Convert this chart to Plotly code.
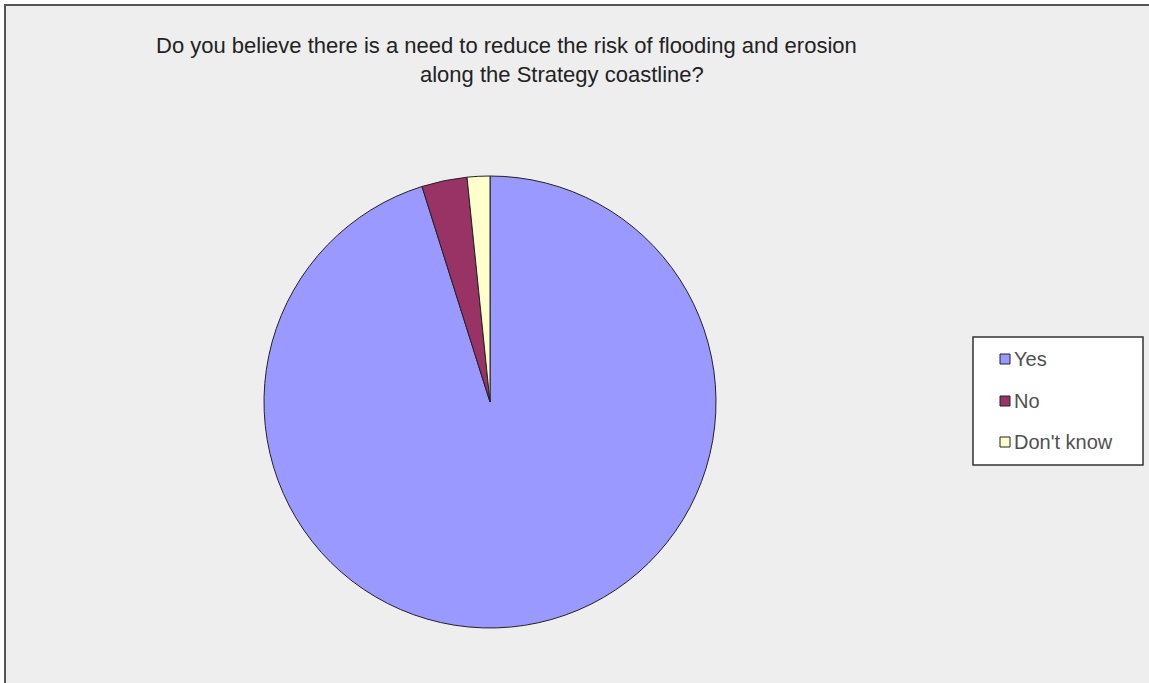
import plotly.graph_objects as go

# Survey responses
labels = ["Yes", "No", "Don't know"]
counts = [176, 6, 3]
colors = ["#9999FF", "#993366", "#FFFFCC"]

title_line1 = "Do you believe there is a need to reduce the risk of flooding and erosion"
title_line2 = "along the Strategy coastline?"

W, H = 1149, 683


def px(x):
    return x / W


def py(y):
    return 1 - y / H


cx, cy, r = 490, 402, 226

fig = go.Figure(
    go.Pie(
        labels=labels,
        values=counts,
        marker=dict(colors=colors, line=dict(color="#222222", width=1)),
        sort=False,
        direction="clockwise",
        rotation=0,
        textinfo="none",
        hoverinfo="label+value+percent",
        showlegend=False,
        domain=dict(x=[px(cx - r), px(cx + r)], y=[py(cy + r), py(cy - r)]),
    )
)

shapes = [
    # chart area with its frame
    dict(type="rect", xref="paper", yref="paper",
         x0=px(5), x1=1.02, y0=-0.02, y1=py(5),
         fillcolor="#EEEEEE", line=dict(color="#555555", width=2), layer="below"),
    # legend box
    dict(type="rect", xref="paper", yref="paper",
         x0=px(973), x1=px(1143), y0=py(465), y1=py(337),
         fillcolor="white", line=dict(color="#333333", width=1.5), layer="below"),
]

title_font = dict(family="Liberation Sans, Arial", size=22, color="#222222")
annotations = [
    dict(text=title_line1, x=px(506), y=py(46), xref="paper", yref="paper",
         showarrow=False, xanchor="center", yanchor="middle", font=title_font),
    dict(text=title_line2, x=px(562), y=py(75), xref="paper", yref="paper",
         showarrow=False, xanchor="center", yanchor="middle", font=title_font),
]

legend_y = [359, 401, 442]
for lab, col, ly in zip(labels, colors, legend_y):
    shapes.append(dict(type="rect", xref="paper", yref="paper",
                       x0=px(1000), x1=px(1010), y0=py(ly + 5), y1=py(ly - 5),
                       fillcolor=col, line=dict(color="#222222", width=1)))
    annotations.append(dict(text=lab, x=px(1012), y=py(ly), xref="paper", yref="paper",
                            showarrow=False, xanchor="left", yanchor="middle",
                            font=dict(family="Liberation Sans, Arial", size=20, color="#505050")))

fig.update_layout(
    width=W, height=H, autosize=False,
    margin=dict(l=0, r=0, t=0, b=0),
    paper_bgcolor="white",
    plot_bgcolor="white",
    shapes=shapes,
    annotations=annotations,
)

fig.write_html("out.html")
